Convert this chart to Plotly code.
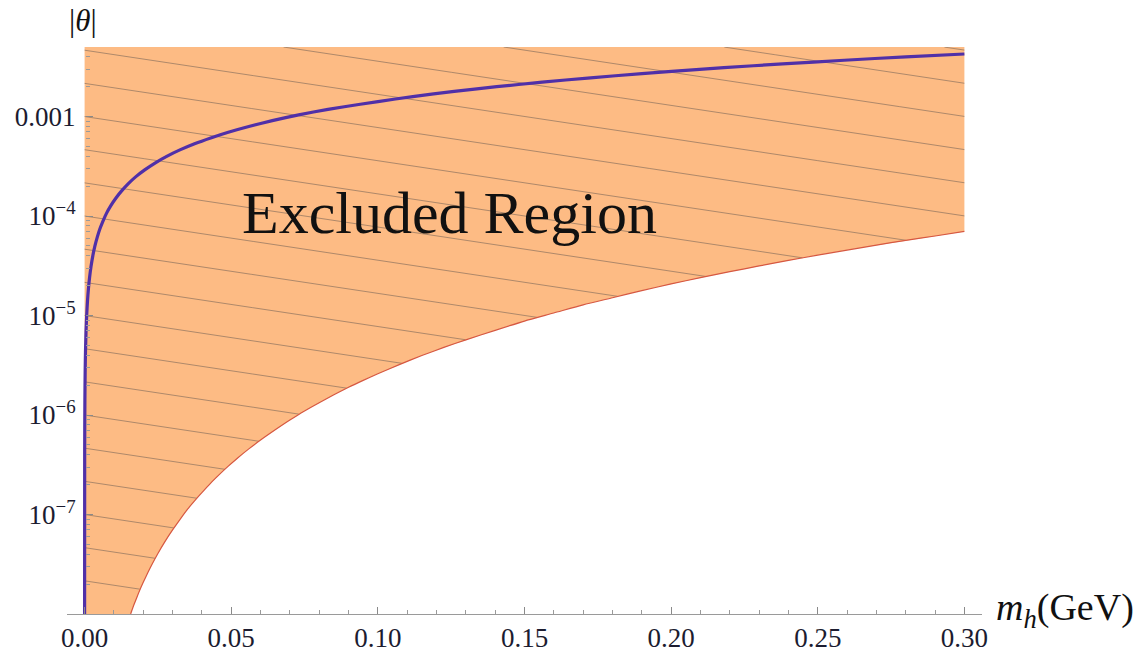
import numpy as np
import plotly.graph_objects as go

# ---------------- data ----------------
# lower boundary of the excluded region (thin red curve)
red_x = [0.0157, 0.0165, 0.0175, 0.0185, 0.020, 0.0215, 0.023, 0.025, 0.0275, 0.030,
         0.0325, 0.035, 0.0375, 0.040, 0.043, 0.046, 0.049, 0.052, 0.056, 0.060,
         0.065, 0.070, 0.075, 0.080, 0.085, 0.090, 0.095, 0.100, 0.1075, 0.115,
         0.1225, 0.130, 0.140, 0.150, 0.160, 0.170, 0.180, 0.190, 0.200, 0.210,
         0.220, 0.230, 0.240, 0.250, 0.260, 0.270, 0.280, 0.290, 0.300]
red_y = [1.0e-8, 1.17e-8, 1.39e-8, 1.65e-8, 2.08e-8, 2.58e-8, 3.16e-8, 4.06e-8, 5.4e-8, 7.0e-8,
         8.9e-8, 1.12e-7, 1.37e-7, 1.66e-7, 2.07e-7, 2.53e-7, 3.06e-7, 3.66e-7, 4.57e-7, 5.6e-7,
         7.1e-7, 8.9e-7, 1.1e-6, 1.33e-6, 1.6e-6, 1.9e-6, 2.23e-6, 2.6e-6, 3.23e-6, 3.96e-6,
         4.78e-6, 5.7e-6, 7.1e-6, 8.8e-6, 1.06e-5, 1.28e-5, 1.51e-5, 1.78e-5, 2.08e-5, 2.4e-5,
         2.76e-5, 3.15e-5, 3.58e-5, 4.05e-5, 4.55e-5, 5.1e-5, 5.7e-5, 6.3e-5, 7.0e-5]

# blue curve
blue_x = [0.0, 0.00003, 0.0001, 0.0002, 0.0003, 0.0005, 0.0007, 0.001, 0.0013, 0.0017,
          0.0022, 0.0028, 0.0035, 0.0043, 0.0052, 0.0062, 0.0075, 0.009, 0.0107, 0.0127,
          0.015, 0.0175, 0.0205, 0.024, 0.028, 0.0325, 0.0375, 0.043, 0.049, 0.056,
          0.064, 0.073, 0.083, 0.094, 0.106, 0.119, 0.133, 0.148, 0.164, 0.181,
          0.199, 0.218, 0.238, 0.259, 0.280, 0.300]
blue_y = [1.0e-8, 4.3e-7, 1.42e-6, 2.84e-6, 4.26e-6, 7.1e-6, 9.9e-6, 1.42e-5, 1.85e-5, 2.41e-5,
          3.12e-5, 3.98e-5, 4.97e-5, 6.1e-5, 7.4e-5, 8.8e-5, 1.07e-4, 1.28e-4, 1.52e-4, 1.8e-4,
          2.13e-4, 2.49e-4, 2.91e-4, 3.41e-4, 3.98e-4, 4.62e-4, 5.33e-4, 6.1e-4, 6.96e-4, 7.95e-4,
          9.1e-4, 1.04e-3, 1.18e-3, 1.33e-3, 1.5e-3, 1.69e-3, 1.89e-3, 2.1e-3, 2.33e-3, 2.57e-3,
          2.83e-3, 3.1e-3, 3.38e-3, 3.68e-3, 3.98e-3, 4.25e-3]

# axis ranges / ticks
X_MIN, X_MAX = -0.006, 0.306
Y_BOT, Y_TOP = 1e-8, 5e-3
x_tickvals = [0.0, 0.05, 0.10, 0.15, 0.20, 0.25, 0.30]
x_ticktext = ["0.00", "0.05", "0.10", "0.15", "0.20", "0.25", "0.30"]
x_minor = [0.01, 0.02, 0.03, 0.04, 0.06, 0.07, 0.08, 0.09, 0.11, 0.12, 0.13, 0.14,
           0.16, 0.17, 0.18, 0.19, 0.21, 0.22, 0.23, 0.24, 0.26, 0.27, 0.28, 0.29]
y_tickvals = [1e-7, 1e-6, 1e-5, 1e-4, 1e-3]
y_ticktext = ["10<sup>\u22127</sup>", "10<sup>\u22126</sup>", "10<sup>\u22125</sup>",
              "10<sup>\u22124</sup>", "0.001"]
y_decades = [-8, -7, -6, -5, -4, -3]
y_mantissas = [2, 3, 4, 5, 6, 7, 8, 9]

# hatch (mesh) lines: log10 value at x = 0 (one every third of a decade) and slope
hatch_thirds = list(range(-24, -2))   # intercept = k/3 decades
hatch_slope = 4.44                     # decades per unit of x

FONT = "Liberation Serif"

# ---------------- build ----------------
fig = go.Figure()

poly_x = [0.0, red_x[-1]] + red_x[::-1] + [0.0]
poly_y = [Y_TOP, Y_TOP] + red_y[::-1] + [Y_BOT]
fig.add_trace(go.Scatter(x=poly_x, y=poly_y, mode="lines", fill="toself",
                         fillcolor="rgb(253,187,132)", line=dict(width=0),
                         hoverinfo="skip", showlegend=False))

# hatch lines clipped to the region
xs = np.linspace(0.0, red_x[-1], 1500)
lower = np.interp(xs, red_x, np.log10(red_y), left=-np.inf)
hx, hy = [], []
for k in hatch_thirds:
    ly = k / 3.0 - hatch_slope * xs
    ok = (ly <= np.log10(Y_TOP)) & (ly >= lower) & (ly >= np.log10(Y_BOT))
    yy = np.where(ok, 10 ** ly, np.nan)
    hx.extend(list(xs) + [None])
    hy.extend(list(yy) + [None])
fig.add_trace(go.Scatter(x=hx, y=hy, mode="lines",
                         line=dict(color="rgba(95,85,80,0.5)", width=1),
                         connectgaps=False, hoverinfo="skip", showlegend=False))

fig.add_trace(go.Scatter(x=red_x, y=red_y, mode="lines",
                         line=dict(color="rgb(214,88,66)", width=1.2, shape="spline", smoothing=0.6),
                         hoverinfo="skip", showlegend=False))
fig.add_trace(go.Scatter(x=blue_x, y=blue_y, mode="lines",
                         line=dict(color="rgb(80,48,168)", width=3.2, shape="spline", smoothing=0.6),
                         hoverinfo="skip", showlegend=False))

y_minor = [m * 10.0 ** d for d in y_decades for m in y_mantissas if m * 10.0 ** d <= Y_TOP]

tickfont = dict(family=FONT, size=27, color="#1c1c30")
fig.update_layout(
    width=1145, height=652,
    margin=dict(l=67, r=163, t=47, b=38, autoexpand=False),
    paper_bgcolor="white", plot_bgcolor="white",
    xaxis=dict(range=[X_MIN, X_MAX], showgrid=False, zeroline=False, automargin=False,
               showline=True, linecolor="#9a9a9a", linewidth=1,
               ticks="inside", ticklen=7, tickcolor="#8a8a8a", tickwidth=1,
               tickvals=x_tickvals, ticktext=x_ticktext, tickfont=tickfont,
               ticklabelstandoff=0,
               minor=dict(tickvals=x_minor, ticks="inside", ticklen=4,
                          tickcolor="#9a9a9a", showgrid=False)),
    yaxis=dict(type="log", range=[np.log10(Y_BOT), np.log10(Y_TOP)], automargin=False,
               anchor="free", position=(0 - X_MIN) / (X_MAX - X_MIN),
               showgrid=False, zeroline=False, showline=False,
               ticks="inside", ticklen=7, tickcolor="#8a8a8a", tickwidth=1,
               tickvals=y_tickvals, ticktext=y_ticktext, tickfont=tickfont,
               ticklabelstandoff=9,
               minor=dict(tickvals=y_minor, ticks="inside", ticklen=4,
                          tickcolor="#9a9a9a", showgrid=False)),
    annotations=[
        dict(text="Excluded Region", x=0.1245, y=-3.97, xref="x", yref="y",
             xanchor="center", yanchor="middle", showarrow=False,
             font=dict(family=FONT, size=60, color="#111111")),
        dict(text="<i>m</i><sub><i>h</i></sub>(GeV)", x=1, y=0, xref="paper", yref="paper",
             xanchor="left", yanchor="middle", xshift=12, yshift=4, showarrow=False,
             font=dict(family=FONT, size=38, color="#111111")),
        dict(text="|<i>\u03b8</i>|", x=0, y=1, xref="x", yref="paper",
             xanchor="center", yanchor="bottom", xshift=-2, yshift=7, showarrow=False,
             font=dict(family=FONT, size=31, color="#111111")),
    ],
)

fig.write_html("out.html", config={"displayModeBar": False},
               post_script="document.body.style.margin='0px';document.body.style.overflow='hidden';")
